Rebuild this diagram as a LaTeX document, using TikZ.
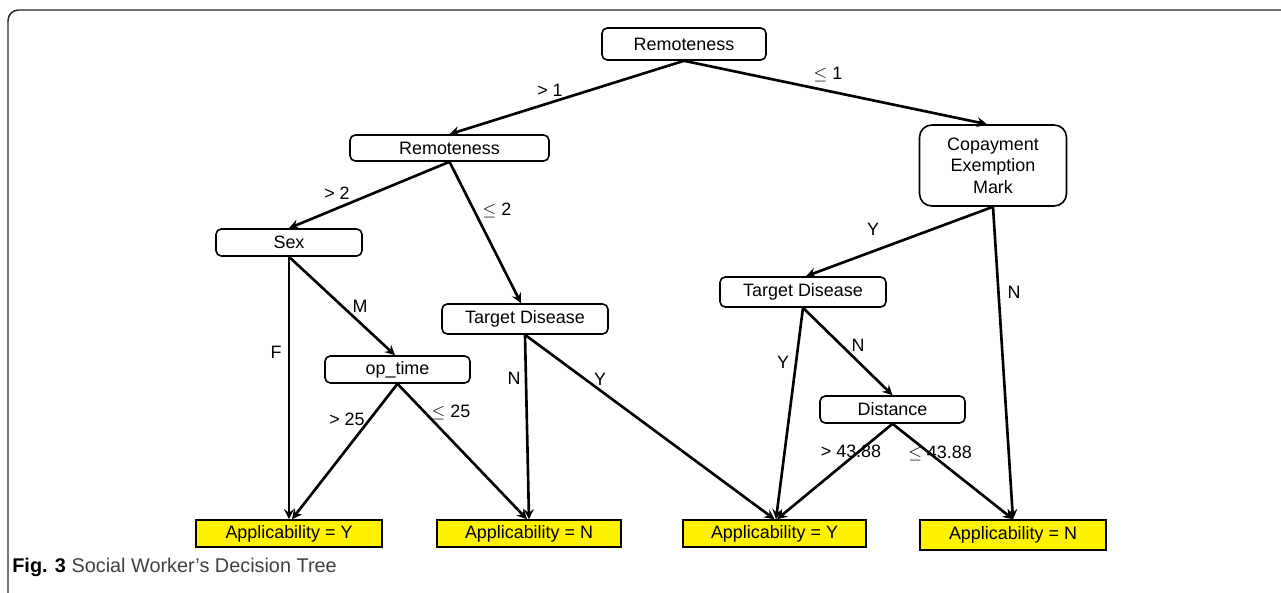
\documentclass[tikz,border=0pt]{standalone}
\usepackage{fontspec}
\setmainfont{Liberation Sans}
\usetikzlibrary{arrows}
\newcommand{\treefont}{\fontsize{10.2}{12.2}\selectfont}

\tikzset{
  split/.style={draw, line width=0.9pt, rounded corners=3pt, fill=white, inner sep=0pt,
    font=\treefont},
  leaf/.style={draw, line width=0.9pt, fill=yellow, inner sep=0pt, minimum height=0.54cm,
    font=\treefont},
  branch/.style={-stealth, line width=1.5pt},
  lbl/.style={font=\treefont, inner sep=0pt}
}

\begin{document}
\begin{tikzpicture}[x=0.02cm, y=-0.02cm]
  \useasboundingbox (0,0) rectangle (1281,592);
  \clip (0,0) rectangle (1281,592);
  \draw[line width=0.85pt, black!85, rounded corners=6pt] (8,10) rectangle (1340,660);

  % questions
  \node[split, minimum width=3.28cm, minimum height=0.64cm] (root) at (684,44) {Remoteness};
  \node[split, minimum width=3.98cm, minimum height=0.52cm] (remote) at (449.5,148) {Remoteness};
  \node[split, rounded corners=7pt, minimum width=2.94cm, minimum height=1.62cm, align=center]
    (copay) at (993,165.5) {Copayment\\Exemption\\Mark};
  \node[split, minimum width=2.92cm, minimum height=0.54cm] (sex) at (289,242.5) {Sex};
  \node[split, minimum width=2.9cm, minimum height=0.54cm] (optime) at (397.5,369.5) {op\_time};
  \node[split, minimum width=3.32cm, minimum height=0.6cm] (diseaseL) at (525,319) {Target Disease};
  \node[split, minimum width=3.32cm, minimum height=0.6cm] (diseaseR) at (803,292) {Target Disease};
  \node[split, minimum width=2.9cm, minimum height=0.54cm] (dist) at (892.5,409.5) {Distance};

  % answers
  \node[leaf, minimum width=3.72cm] (yesA) at (289,533.5) {Applicability = Y};
  \node[leaf, minimum width=3.68cm] (noA) at (529,533.5) {Applicability = N};
  \node[leaf, minimum width=3.66cm] (yesB) at (774.5,533.5) {Applicability = Y};
  \node[leaf, minimum width=3.72cm, minimum height=0.6cm] (noB) at (1013,535) {Applicability = N};

  % branches
  \draw[branch] (root.south) -- (remote.north);
  \draw[branch] (root.south) -- ([xshift=-0.12cm]copay.north);
  \draw[branch] (remote.south) -- (sex.north);
  \draw[branch] (remote.south) -- ([xshift=-0.08cm]diseaseL.north);
  \draw[branch] (sex.south) -- (yesA.north);
  \draw[branch] (sex.south) -- ([xshift=-0.05cm]optime.north);
  \draw[branch] (optime.south) -- ([xshift=0.06cm]yesA.north);
  \draw[branch] (optime.south) -- ([xshift=-0.04cm]noA.north);
  \draw[branch] (diseaseL.south) -- (noA.north);
  \draw[branch] (diseaseL.south) -- (yesB.north);
  \draw[branch] (copay.south) -- ([xshift=0.06cm]diseaseR.north);
  \draw[branch] (copay.south) -- (noB.north);
  \draw[branch] (diseaseR.south) -- ([xshift=0.03cm]yesB.north);
  \draw[branch] (diseaseR.south) -- (dist.north);
  \draw[branch] (dist.south) -- ([xshift=0.05cm]yesB.north);
  \draw[branch] (dist.south) -- (noB.north);

  % branch labels
  \node[lbl] at (550,90) {> 1};
  \node[lbl] at (828,75) {$\leq$ 1};
  \node[lbl] at (337,193) {> 2};
  \node[lbl] at (497,210) {$\leq$ 2};
  \node[lbl] at (276,352) {F};
  \node[lbl] at (360,306) {M};
  \node[lbl] at (347,419) {> 25};
  \node[lbl] at (451,412) {$\leq$ 25};
  \node[lbl] at (514,378) {N};
  \node[lbl] at (600,379) {Y};
  \node[lbl] at (873,229) {Y};
  \node[lbl] at (1014,292) {N};
  \node[lbl] at (783,362) {Y};
  \node[lbl] at (858,345) {N};
  \node[lbl] at (851,451) {> 43.88};
  \node[lbl] at (940,453) {$\leq$ 43.88};

  % caption
  \node[anchor=west, inner sep=0pt, font=\fontsize{11.3}{13}\selectfont] (caption) at (12,567)
    {\textbf{Fig. 3} \textcolor{black!75}{Social Worker's Decision Tree}};
\end{tikzpicture}
\end{document}
